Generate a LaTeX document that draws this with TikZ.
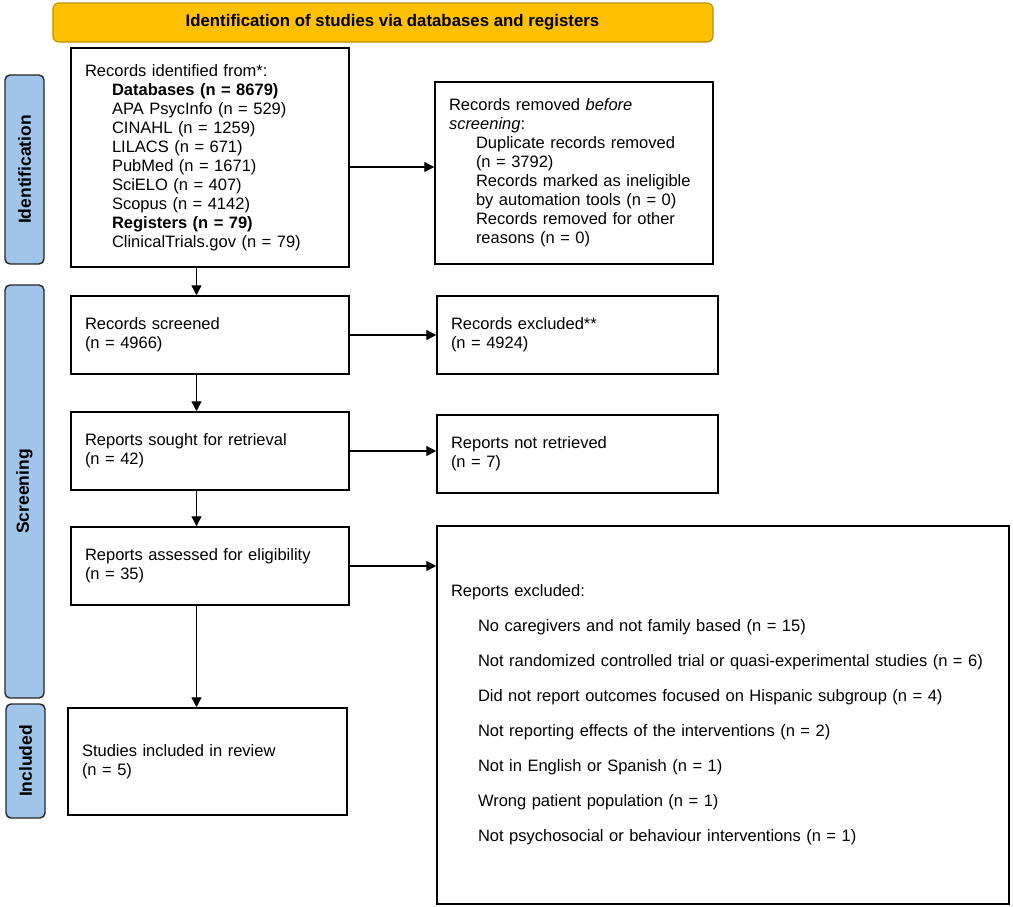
\documentclass[tikz,border=0pt]{standalone}
\usepackage{fontspec}
\setmainfont{Liberation Sans}
\usetikzlibrary{arrows.meta}

\definecolor{bannerfill}{RGB}{255,192,0}
\definecolor{bannerline}{RGB}{191,144,0}
\definecolor{phasefill}{RGB}{160,196,234}

\tikzset{
  flowbox/.style={draw, line width=1.5pt, align=left, inner xsep=14pt, inner ysep=0pt,
    font=\fontsize{16.5}{19}\selectfont},
  phase/.style={draw=black!85, fill=phasefill, rounded corners=5pt, line width=1.4pt,
    minimum height=39pt, rotate=90, font=\bfseries\fontsize{17.5}{19}\selectfont},
  banner/.style={draw=bannerline, fill=bannerfill, rounded corners=6pt, line width=1.2pt,
    minimum width=660pt, minimum height=39pt, font=\bfseries\fontsize{16.8}{19}\selectfont},
  flowarrow/.style={-{Triangle[length=10pt,width=10pt]}, line width=1.3pt},
}

\begin{document}
\begin{tikzpicture}[x=1pt,y=1pt,yscale=-1,xscale=1]
\useasboundingbox (0,0) rectangle (1013,906);

%Header
\node[banner] (head) at (383,22.5) {\hspace*{19pt}Identification of studies via databases and registers};

%Phase labels
\node[phase, minimum width=189pt] (lblident) at (24.5,169.5) {Identification};
\node[phase, minimum width=413pt] (lblscreen) at (24.5,491.5) {Screening};
\node[phase, minimum width=114pt] (lblincl) at (25.5,761) {Included};

%Boxes
\node[flowbox, text width=250pt, minimum height=219pt] (ident) at (210,157.5) {Records identified from*:\\
  \hspace*{27pt}\textbf{Databases (n = 8679)}\\
  \hspace*{27pt}APA PsycInfo (n = 529)\\
  \hspace*{27pt}CINAHL (n = 1259)\\
  \hspace*{27pt}LILACS (n = 671)\\
  \hspace*{27pt}PubMed (n = 1671)\\
  \hspace*{27pt}SciELO (n = 407)\\
  \hspace*{27pt}Scopus (n = 4142)\\
  \hspace*{27pt}\textbf{Registers (n = 79)}\\
  \hspace*{27pt}ClinicalTrials.gov (n = 79)};
\node[flowbox, text width=250pt, minimum height=182pt] (removed) at (574,173) {Records removed \textit{before}\\
  \textit{screening}:\\
  \hspace*{27pt}Duplicate records removed\\
  \hspace*{27pt}(n = 3792)\\
  \hspace*{27pt}Records marked as ineligible\\
  \hspace*{27pt}by automation tools (n = 0)\\
  \hspace*{27pt}Records removed for other\\
  \hspace*{27pt}reasons (n = 0)};
\node[flowbox, text width=250pt, minimum height=78pt] (screened) at (210,335) {Records screened\\(n = 4966)};
\node[flowbox, text width=253pt, minimum height=78pt] (excluded) at (577.5,335) {Records excluded**\\(n = 4924)};
\node[flowbox, text width=250pt, minimum height=78pt] (sought) at (210,451) {Reports sought for retrieval\\(n = 42)};
\node[flowbox, text width=253pt, minimum height=78pt] (notretr) at (577.5,454) {Reports not retrieved\\(n = 7)};
\node[flowbox, text width=250pt, minimum height=78pt] (assessed) at (210,566) {Reports assessed for eligibility\\(n = 35)};
\node[flowbox, text width=251pt, minimum height=107pt] (studies) at (207.5,761.5) {Studies included in review\\(n = 5)};
\node[flowbox, text width=544pt, minimum height=378pt] (repexcl) at (723,715) {Reports excluded:\\[16pt]
  \hspace*{27pt}No caregivers and not family based (n = 15)\\[16pt]
  \hspace*{27pt}Not randomized controlled trial or quasi-experimental studies (n = 6)\\[16pt]
  \hspace*{27pt}Did not report outcomes focused on Hispanic subgroup (n = 4)\\[16pt]
  \hspace*{27pt}Not reporting effects of the interventions (n = 2)\\[16pt]
  \hspace*{27pt}Not in English or Spanish (n = 1)\\[16pt]
  \hspace*{27pt}Wrong patient population (n = 1)\\[16pt]
  \hspace*{27pt}Not psychosocial or behaviour interventions (n = 1)};

%Arrows
\coordinate (spine) at (196.5,0);
\coordinate (rowa) at (0,167);
\draw[flowarrow] (ident.south -| spine) -- (screened.north -| spine);
\draw[flowarrow] (screened.south -| spine) -- (sought.north -| spine);
\draw[flowarrow] (sought.south -| spine) -- (assessed.north -| spine);
\draw[flowarrow] (assessed.south -| spine) -- (studies.north -| spine);
\draw[flowarrow] (ident.east |- rowa) -- (removed.west |- rowa);
\draw[flowarrow] (screened.east) -- (excluded.west);
\draw[flowarrow] (sought.east) -- (sought.east -| notretr.west);
\draw[flowarrow] (assessed.east) -- (assessed.east -| repexcl.west);

\end{tikzpicture}
\end{document}
